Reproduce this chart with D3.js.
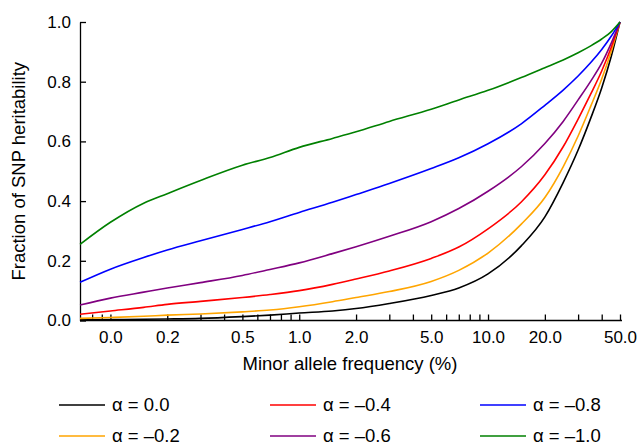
<!DOCTYPE html>
<meta charset="utf-8">
<script src="https://d3js.org/d3.v7.min.js"></script>
<style>
body { margin: 0; background: #fff; }
text { font-family: "Liberation Sans", Arial, sans-serif; fill: #000; }
.axis path, .axis line { stroke: #000; stroke-width: 1.3px; }
.curve { fill: none; stroke-width: 1.6px; }
</style>
<body>
<script>

// minor allele frequency (%) at which the curves were read
var maf = [0.069, 0.1, 0.15, 0.2, 0.3, 0.5, 0.7, 1, 1.5, 2, 3, 5, 7, 10, 15, 20, 25, 30, 35, 40, 45, 50];

// fraction of SNP heritability, one array per alpha
var h00 = [0.002, 0.003, 0.004, 0.005, 0.007, 0.013, 0.018, 0.025, 0.032, 0.040, 0.057, 0.084, 0.109, 0.156, 0.250, 0.347, 0.462, 0.571, 0.678, 0.779, 0.886, 1.0];
var h02 = [0.007, 0.010, 0.014, 0.018, 0.022, 0.029, 0.035, 0.046, 0.063, 0.077, 0.097, 0.131, 0.168, 0.226, 0.323, 0.412, 0.515, 0.618, 0.718, 0.809, 0.903, 1.0];
var h04 = [0.021, 0.032, 0.044, 0.054, 0.064, 0.077, 0.087, 0.100, 0.121, 0.139, 0.166, 0.208, 0.246, 0.307, 0.397, 0.488, 0.582, 0.675, 0.759, 0.836, 0.916, 1.0];
var h06 = [0.052, 0.075, 0.095, 0.109, 0.127, 0.151, 0.171, 0.193, 0.224, 0.247, 0.282, 0.331, 0.375, 0.433, 0.515, 0.593, 0.667, 0.739, 0.802, 0.862, 0.930, 1.0];
var h08 = [0.128, 0.172, 0.211, 0.236, 0.267, 0.305, 0.331, 0.362, 0.396, 0.422, 0.459, 0.509, 0.545, 0.592, 0.659, 0.721, 0.772, 0.819, 0.864, 0.908, 0.953, 1.0];
var h10 = [0.255, 0.329, 0.393, 0.425, 0.469, 0.520, 0.546, 0.580, 0.610, 0.632, 0.667, 0.708, 0.739, 0.771, 0.814, 0.847, 0.873, 0.897, 0.920, 0.943, 0.968, 1.0];

var alphaLabels = ["α = 0.0", "α = –0.2", "α = –0.4", "α = –0.6", "α = –0.8", "α = –1.0"];
var colors = ["#000000", "#ffa500", "#ff0000", "#800080", "#0000ff", "#008000"];

// axis ticks
var xMajor = [0.1, 0.2, 0.5, 1, 2, 5, 10, 20, 50];
var xMajorLabels = ["0.0", "0.2", "0.5", "1.0", "2.0", "5.0", "10.0", "20.0", "50.0"];
var xMinor = [0.08, 0.09, 0.3, 0.4, 0.6, 0.7, 0.8, 0.9, 3, 4, 6, 7, 8, 9, 30, 40];
var yTicks = [0, 0.2, 0.4, 0.6, 0.8, 1.0];

var series = [h00, h02, h04, h06, h08, h10];

var width = 638,
    height = 446;

var svg = d3.select("body").append("svg")
    .attr("width", width)
    .attr("height", height);

var x = d3.scaleLog()
    .domain([0.069, 50])
    .range([80, 620]);

var y = d3.scaleLinear()
    .domain([0, 1])
    .range([320.5, 22]);

var xAxis = d3.axisBottom(x)
    .tickValues(xMajor.concat(xMinor))
    .tickFormat(function(d) {
      var i = xMajor.indexOf(d);
      return i < 0 ? "" : xMajorLabels[i];
    })
    .tickSize(-6)
    .tickSizeOuter(0)
    .tickPadding(10.5);

svg.append("g")
    .attr("class", "axis")
    .attr("transform", "translate(0," + y(0) + ")")
    .call(xAxis)
    .call(function(g) { g.select(".domain").attr("d", "M80,0H622"); })
    .selectAll("text")
    .style("font-size", "17px");

var yAxis = d3.axisLeft(y)
    .tickValues(yTicks)
    .tickFormat(d3.format(".1f"))
    .tickSize(-6)
    .tickSizeOuter(0)
    .tickPadding(9);

svg.append("g")
    .attr("class", "axis")
    .attr("transform", "translate(" + x.range()[0] + ",0)")
    .call(yAxis)
    .selectAll("text")
    .style("font-size", "17px");

svg.append("text")
    .attr("x", 350)
    .attr("y", 370)
    .attr("text-anchor", "middle")
    .style("font-size", "18.5px")
    .text("Minor allele frequency (%)");

svg.append("text")
    .attr("transform", "translate(25," + y(0.5) + ") rotate(-90)")
    .attr("text-anchor", "middle")
    .style("font-size", "18.5px")
    .text("Fraction of SNP heritability");

var line = d3.line()
    .x(function(d) { return x(d[0]); })
    .y(function(d) { return y(d[1]); })
    .curve(d3.curveMonotoneX);

svg.append("g")
    .selectAll("path")
    .data(series)
    .enter()
    .append("path")
    .attr("class", "curve")
    .style("stroke", function(d, i) { return colors[i]; })
    .attr("d", function(d) {
      return line(d.map(function(v, j) { return [maf[j], v]; }));
    });

// legend: three columns, two rows
var legCols = [59, 270, 480],
    legRows = [405, 436];

var leg = svg.append("g")
    .selectAll("g")
    .data(alphaLabels)
    .enter()
    .append("g")
    .attr("transform", function(d, i) {
      return "translate(" + legCols[Math.floor(i / 2)] + "," + legRows[i % 2] + ")";
    });

leg.append("line")
    .attr("x1", 0)
    .attr("x2", 46)
    .style("stroke", function(d, i) { return colors[i]; })
    .style("stroke-width", "1.6px");

leg.append("text")
    .attr("x", 53)
    .attr("dy", "0.35em")
    .style("font-size", "18.5px")
    .text(function(d) { return d; });

</script>
</body>
</html>
